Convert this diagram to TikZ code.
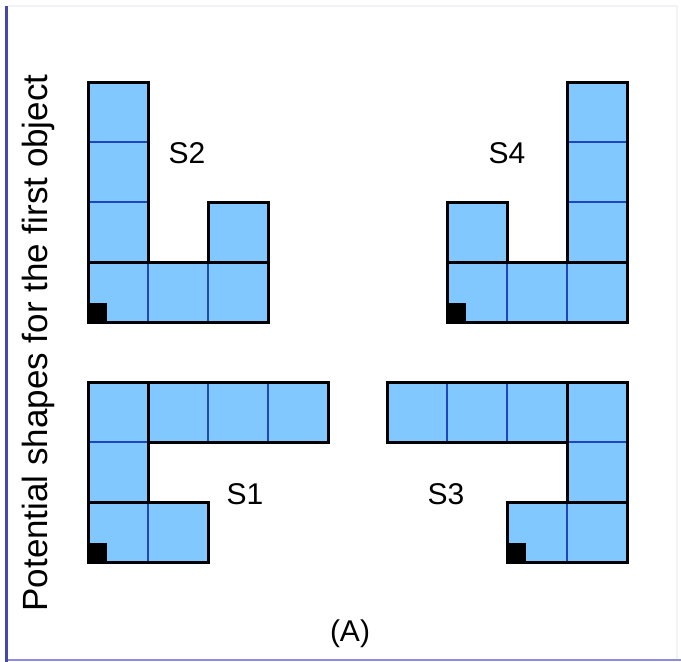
\documentclass[tikz,border=0pt]{standalone}
\usepackage{fontspec}
\setmainfont{Liberation Sans}
\definecolor{cellblue}{RGB}{128,200,255}
\definecolor{innerblue}{RGB}{30,70,190}
\definecolor{framedark}{RGB}{70,70,175}
\definecolor{framelight}{RGB}{140,140,220}
\definecolor{framefaint}{RGB}{242,242,248}
\tikzset{
  cellfill/.style={fill=cellblue, draw=none},
  innerline/.style={draw=innerblue, line width=2pt},
  outline/.style={draw=black, line width=3pt, line join=miter},
  anchorsq/.style={fill=black, draw=none},
  lab/.style={font=\fontsize{30}{30}\selectfont, inner sep=0pt},
  sidelab/.style={font=\fontsize{35}{35}\selectfont, inner sep=0pt},
}
\begin{document}
\begin{tikzpicture}[x=1pt,y=-1pt]
\useasboundingbox (0,0) rectangle (681,662);
\fill[white] (0,0) rectangle (681,662);
% frame
\draw[framefaint, line width=1.5pt] (8,6) -- (677,6) -- (677,659);
\draw[framelight, line width=2.5pt] (6,660) -- (681,660);
\draw[framedark, line width=3pt] (6.5,6) -- (6.5,662);

% ---------- S2 ----------
\fill[cellfill] (88,82) rectangle (148,322);
\fill[cellfill] (148,262) rectangle (268,322);
\fill[cellfill] (208,202) rectangle (268,262);
\draw[innerline] (88,142) -- (148,142);
\draw[innerline] (88,202) -- (148,202);
\draw[innerline] (148,262) -- (148,322);
\draw[innerline] (208,262) -- (208,322);
\draw[outline] (88,82) rectangle (148,262);
\draw[outline] (88,262) rectangle (268,322);
\draw[outline] (208,202) rectangle (268,262);
\fill[anchorsq] (88,303) rectangle (107,322);
\node[lab] (s2) at (187,153) {S2};

% ---------- S4 ----------
\fill[cellfill] (567,82) rectangle (627,322);
\fill[cellfill] (447,262) rectangle (567,322);
\fill[cellfill] (447,202) rectangle (507,262);
\draw[innerline] (567,142) -- (627,142);
\draw[innerline] (567,202) -- (627,202);
\draw[innerline] (507,262) -- (507,322);
\draw[innerline] (567,262) -- (567,322);
\draw[outline] (567,82) rectangle (627,262);
\draw[outline] (447,262) rectangle (627,322);
\draw[outline] (447,202) rectangle (507,262);
\fill[anchorsq] (447,303) rectangle (466,322);
\node[lab] (s4) at (507,153) {S4};

% ---------- S1 ----------
\fill[cellfill] (88,382) rectangle (328,442);
\fill[cellfill] (88,442) rectangle (148,562);
\fill[cellfill] (148,502) rectangle (208,562);
\draw[innerline] (208,382) -- (208,442);
\draw[innerline] (268,382) -- (268,442);
\draw[innerline] (88,442) -- (148,442);
\draw[innerline] (148,502) -- (148,562);
\draw[outline] (148,382) rectangle (328,442);
\draw[outline] (88,382) rectangle (148,502);
\draw[outline] (88,502) rectangle (208,562);
\fill[anchorsq] (88,543) rectangle (107,562);
\node[lab] (s1) at (245,494) {S1};

% ---------- S3 ----------
\fill[cellfill] (387,382) rectangle (627,442);
\fill[cellfill] (567,442) rectangle (627,562);
\fill[cellfill] (507,502) rectangle (567,562);
\draw[innerline] (447,382) -- (447,442);
\draw[innerline] (507,382) -- (507,442);
\draw[innerline] (567,442) -- (627,442);
\draw[innerline] (567,502) -- (567,562);
\draw[outline] (387,382) rectangle (567,442);
\draw[outline] (567,382) rectangle (627,502);
\draw[outline] (507,502) rectangle (627,562);
\fill[anchorsq] (507,543) rectangle (526,562);
\node[lab] (s3) at (446,494) {S3};

% ---------- captions ----------
\node[lab] (capA) at (350,634) {(A)};
\node[sidelab, rotate=90, anchor=base] (side) at (47,343) {Potential shapes for the first object};
\end{tikzpicture}
\end{document}
